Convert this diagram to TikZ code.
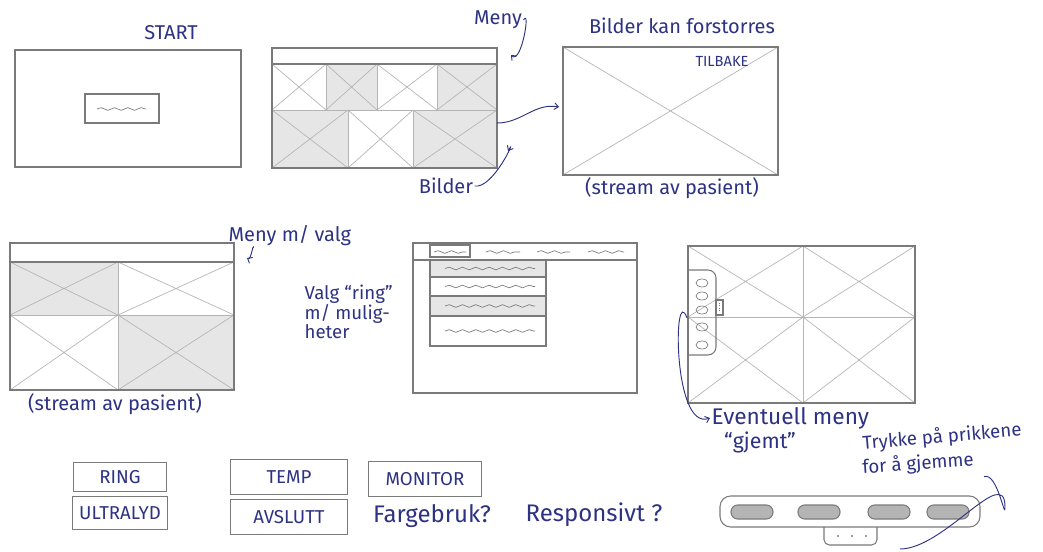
\documentclass[tikz,border=0pt]{standalone}
\usepackage{fontspec}
\setmainfont{Fira Sans}
\usetikzlibrary{arrows.meta,decorations.pathmorphing}
\definecolor{ink}{HTML}{2D3282}
\definecolor{pencil}{HTML}{7A7A7A}
\definecolor{lead}{HTML}{B4B4B4}
\definecolor{smudge}{HTML}{E6E6E6}
\tikzset{
  frame/.style={draw=pencil,line width=0.8pt},
  cross/.style={draw=lead,line width=0.5pt},
  wave/.style={draw=pencil,line width=0.5pt,decorate,decoration={snake,amplitude=1pt,segment length=10pt}},
  note/.style={text=ink,inner sep=1pt,font=\fontsize{15}{17}\selectfont},
  knapp/.style={frame,text=ink,inner sep=2pt,font=\fontsize{14}{16}\selectfont},
  pil/.style={draw=ink,line width=0.7pt,-{Straight Barb[length=3pt,width=5pt]}},
  strek/.style={draw=ink,line width=0.7pt}
}
\begin{document}
\begin{tikzpicture}[x=0.75pt,y=-0.75pt]
\useasboundingbox (0,0) rectangle (1043,552);
\foreach \a/\b/\c/\d/\g in {272/64/326/110/white, 326/64/377/110/smudge, 377/64/437/110/white, 437/64/497/110/smudge,
  272/110/348/168/smudge, 348/110/413/168/white, 413/110/497/168/smudge, 563/47/778/175/white,
  10/262/118/315/smudge, 118/262/234/315/white, 10/315/118/390/white, 118/315/234/390/smudge,
  688/246/803/317/white, 803/246/915/317/white, 688/317/803/403/white, 803/317/915/403/white}
{ \filldraw[cross,fill=\g] (\a,\b) rectangle (\c,\d); \draw[cross] (\a,\b) -- (\c,\d) (\a,\d) -- (\c,\b); }
\draw[frame] (15,50) rectangle (241,167) (85,94) rectangle (159,123); \draw[wave] (97,109) -- (146,109);
\draw[frame] (272,48) rectangle (497,168) (272,64) -- (497,64);
\draw[frame] (563,47) rectangle (778,175);
\draw[frame] (10,243) rectangle (234,390) (10,262) -- (234,262);
\draw[frame] (413,243) rectangle (637,393) (413,260) -- (637,260) (430,245) rectangle (470,257);
\foreach \x/\y in {434/466, 486/520, 537/570, 588/624} { \draw[wave] (\x,252) -- (\y,252); }
\foreach \b/\d/\g in {260/277/smudge, 277/296/white, 296/316/smudge, 316/346/white}
{ \filldraw[frame,fill=\g] (430,\b) rectangle (546,\d); \draw[wave] (445,{(\b+\d)/2}) -- (535,{(\b+\d)/2}); }
\draw[frame] (688,246) rectangle (915,403);
\draw[frame,rounded corners=6pt] (688,270) -- (716,270) -- (716,355) -- (688,355);
\foreach \y in {283,296,310,327,345} { \draw[frame,line width=0.5pt] (702,\y) ellipse [x radius=4.5pt, y radius=3pt]; }
\draw[frame] (716,300) rectangle (723,315); \draw[frame,densely dotted,line width=0.4pt] (719.5,303) -- (719.5,312);
\draw[frame,rounded corners=8pt] (720,496) rectangle (980,527);
\foreach \x in {752,819,889,948} { \filldraw[frame,fill=lead,rounded corners=5pt] (\x-21,505) rectangle (\x+21,519); }
\draw[frame,rounded corners=4pt] (824,527) -- (824,545) -- (877,545) -- (877,527);
\foreach \x in {838,852,866} { \fill[pencil] (\x,536) circle[radius=0.9pt]; }
\node[knapp,minimum width=70pt,minimum height=22pt] (ring) at (120,477) {RING};
\node[knapp,minimum width=88pt,minimum height=26pt] (temp) at (289,477) {TEMP};
\node[knapp,minimum width=85pt,minimum height=26pt] (monitor) at (425,479) {MONITOR};
\node[knapp,minimum width=71pt,minimum height=25pt] (ultralyd) at (120,513) {ULTRALYD};
\node[knapp,minimum width=88pt,minimum height=26pt] (avslutt) at (289,517) {AVSLUTT};
\node[note] (start) at (171,33) {START};
\node[note] (meny) at (498,20) {Meny};
\node[note] (bilder) at (446,186) {Bilder};
\node[note] (forst) at (682,26) {Bilder kan forstorres};
\node[note,font=\fontsize{11}{13}\selectfont] (tilbake) at (722,61) {TILBAKE};
\node[note] (stream1) at (672,188) {(stream av pasient)};
\node[note,anchor=west] (mv) at (227,236) {Meny m/ valg};
\node[note] (stream2) at (115,404) {(stream av pasient)};
\node[note,anchor=west,align=left,font=\fontsize{14}{12.5}\selectfont] (valg) at (303,312) {Valg “ring”\\m/ mulig-\\heter};
\node[note,anchor=west,font=\fontsize{17}{19}\selectfont] (ev) at (710,418) {Eventuell meny};
\node[note,font=\fontsize{16}{18}\selectfont] (gj) at (760,442) {“gjemt”};
\node[note,rotate=5,font=\fontsize{14}{16}\selectfont] (trykk) at (942,437) {Trykke på prikkene};
\node[note,rotate=4,font=\fontsize{14}{16}\selectfont] (gjem) at (918,464) {for å gjemme};
\node[note,font=\fontsize{18}{20}\selectfont] (farge) at (432,516) {Fargebruk?};
\node[note,font=\fontsize{18}{20}\selectfont] (resp) at (594,515) {Responsivt ?};
\coordinate (s2r) at (497,123); \coordinate (s3l) at (559,107);
\coordinate (mp) at (511,55); \coordinate (bp) at (508,151); \coordinate (m4) at (247,258);
\coordinate (sm) at (687,318); \coordinate (bue) at (1005,507); \coordinate (tabR) at (900,549);
\draw[pil] (s2r) to[out=0,in=170] (s3l);
\draw[pil] (meny.east) to[out=60,in=-45] (mp);
\draw[pil] (bilder.east) to[out=-10,in=60] (bp);
\draw[pil] ([xshift=20pt]mv.south west) to[out=100,in=-30] (m4);
\draw[pil] (sm) to[out=110,in=-160] (ev.west);
\draw[strek] ([xshift=6pt,yshift=-4pt]gjem.south east) to[out=20,in=-90] (bue) to[out=90,in=0] (tabR);
\end{tikzpicture}
\end{document}
